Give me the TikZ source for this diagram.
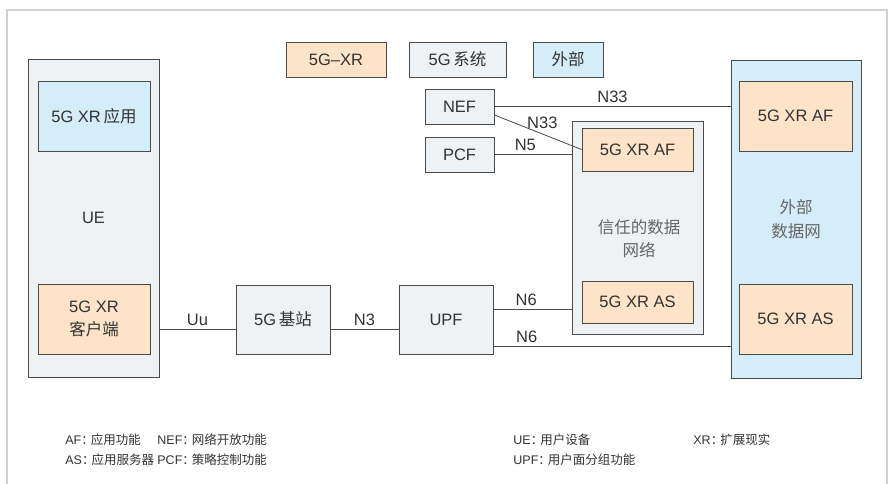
\documentclass[tikz,border=0pt]{standalone}
\usepackage{fontspec}
\setmainfont{Liberation Sans}
\newfontfamily\zhfont{Noto Sans CJK SC}
\newcommand{\zh}[1]{{\zhfont #1}}
\newcommand{\zhcolon}{\zh{：}\hspace{-3pt}}
\definecolor{xrfill}{HTML}{FDE3C8}
\definecolor{sysfill}{HTML}{EEF2F4}
\definecolor{extfill}{HTML}{D5ECF9}
\definecolor{edgegray}{HTML}{4A4A4A}
\definecolor{txtgray}{HTML}{333333}
\definecolor{softgray}{HTML}{666666}
\definecolor{framegray}{HTML}{CFCFCF}

\begin{document}
\begin{tikzpicture}[x=1pt, y=-1pt, line width=0.8pt,
  every node/.style={text=txtgray, font=\fontsize{16.5}{23.5}\selectfont},
  blk/.style={draw=edgegray, line width=0.9pt, inner sep=0pt, align=center},
  xrbox/.style={blk, fill=xrfill},
  sysbox/.style={blk, fill=sysfill},
  extbox/.style={blk, fill=extfill},
  link/.style={draw=edgegray, line width=0.8pt},
  lgd/.style={anchor=west, inner sep=0pt, font=\fontsize{12.5}{16}\selectfont}]
  \useasboundingbox (0,0) rectangle (894,484);
  \draw[framegray, line width=1.5pt] (7,484) -- (7,10) -- (887,10) -- (887,484);

  % key boxes
  \node[xrbox, minimum width=100pt, minimum height=35pt] (kxr) at (336,59.5) {5G--XR};
  \node[sysbox, minimum width=97pt, minimum height=35pt] (ksys) at (457.5,59.5) {5G\,\zh{系统}};
  \node[extbox, minimum width=70pt, minimum height=35pt] (kext) at (568,59.5) {\zh{外部}};

  % containers
  \node[sysbox, minimum width=131pt, minimum height=318pt] (ue) at (93.5,218) {UE};
  \node[sysbox, minimum width=131pt, minimum height=213pt] (dn) at (637.5,227.5) {};
  \node[text=softgray, align=center] (dnlbl) at (639,238.5) {\zh{信任的数据}\\\zh{网络}};
  \node[extbox, minimum width=130pt, minimum height=318pt, text=softgray] (ext) at (796,219) {\zh{外部}\\\zh{数据网}};

  % inner boxes
  \node[extbox, minimum width=112pt, minimum height=70pt] (app) at (94,116) {5G XR\,\zh{应用}};
  \node[xrbox, minimum width=112pt, minimum height=70pt] (client) at (94,319) {5G XR\\\zh{客户端}};
  \node[sysbox, minimum width=94pt, minimum height=69pt] (gnb) at (283,319.5) {5G\,\zh{基站}};
  \node[sysbox, minimum width=94pt, minimum height=69pt] (upf) at (446,319.5) {UPF};
  \node[sysbox, minimum width=69pt, minimum height=35pt] (nef) at (459.5,106.5) {NEF};
  \node[sysbox, minimum width=69pt, minimum height=35pt] (pcf) at (459.5,154.5) {PCF};
  \node[xrbox, minimum width=111pt, minimum height=43pt] (taf) at (637.5,149.5) {5G XR AF};
  \node[xrbox, minimum width=111pt, minimum height=42pt] (tas) at (637.5,302) {5G XR AS};
  \node[xrbox, minimum width=113pt, minimum height=70pt] (eaf) at (795.5,116) {5G XR AF};
  \node[xrbox, minimum width=113pt, minimum height=70pt] (eas) at (795.5,319) {5G XR AS};

  % interfaces
  \coordinate (uu) at ([yshift=-9.5pt]gnb.west);
  \draw[link] (uu -| ue.east) -- (uu) node[midway, above=0pt] {Uu};
  \draw[link] ([yshift=-9.5pt]gnb.east) -- ([yshift=-9.5pt]upf.west) node[midway, above=0pt] {N3};
  \draw[link] ([yshift=10.5pt]upf.east) -- ([yshift=10.5pt]upf.east -| dn.west) node[pos=0.42, above=0pt] {N6};
  \draw[link] ([yshift=-26.5pt]upf.east) -- ([yshift=-26.5pt]upf.east -| ext.west) node[pos=0.14, above=0pt] {N6};
  \draw[link] (nef.east) -- (nef.east -| ext.west) node[pos=0.5, above=0pt] {N33};
  \draw[link] ([yshift=-8.5pt]nef.east) -- (taf.west) node[pos=0.55, above=2pt] {N33};
  \draw[link] (pcf.east) -- (pcf.east -| dn.west) node[pos=0.4, above=0pt] {N5};

  % abbreviations
  \node[lgd] (aaf) at (65,440) {AF\zhcolon\zh{应用功能}};
  \node[lgd] (aas) at (65,460) {AS\zhcolon\zh{应用服务器}};
  \node[lgd] (anef) at (157,440) {NEF\zhcolon\zh{网络开放功能}};
  \node[lgd] (apcf) at (157,460) {PCF\zhcolon\zh{策略控制功能}};
  \node[lgd] (aue) at (513,440) {UE\zhcolon\zh{用户设备}};
  \node[lgd] (aupf) at (513,460) {UPF\zhcolon\zh{用户面分组功能}};
  \node[lgd] (axr) at (693,440) {XR\zhcolon\zh{扩展现实}};
\end{tikzpicture}
\end{document}
